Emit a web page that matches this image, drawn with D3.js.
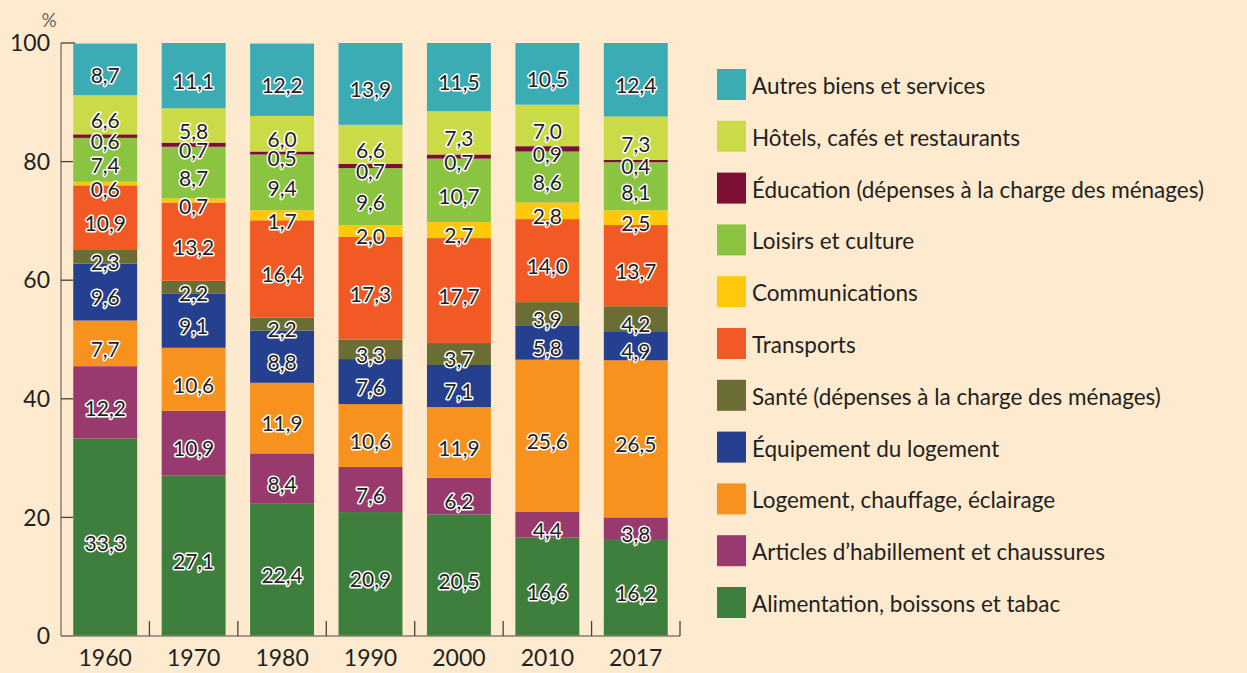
<!DOCTYPE html>
<html><head><meta charset="utf-8">
<script src="https://cdn.jsdelivr.net/npm/d3@7"></script>
<style>
html,body{margin:0;padding:0;background:#FEEACF;}
svg{display:block;}
text{font-family:Lato,"Open Sans",sans-serif;}
</style></head>
<body>
<svg id="chart" width="1247" height="673"></svg>
<script>
const years = ["1960","1970","1980","1990","2000","2010","2017"];
const categories = [
  "Alimentation, boissons et tabac",
  "Articles d’habillement et chaussures",
  "Logement, chauffage, éclairage",
  "Équipement du logement",
  "Santé (dépenses à la charge des ménages)",
  "Transports",
  "Communications",
  "Loisirs et culture",
  "Éducation (dépenses à la charge des ménages)",
  "Hôtels, cafés et restaurants",
  "Autres biens et services"
];
const colors = ["#3F7F3E","#983A6E","#F7921E","#25408F","#6A6E34","#F15A25","#FFC90B","#8AC440","#7D0E35","#CBDB48","#3BABB4"];
const alimentation  = [33.3,27.1,22.4,20.9,20.5,16.6,16.2];
const habillement   = [12.2,10.9,8.4,7.6,6.2,4.4,3.8];
const logement      = [7.7,10.6,11.9,10.6,11.9,25.6,26.5];
const equipement    = [9.6,9.1,8.8,7.6,7.1,5.8,4.9];
const sante         = [2.3,2.2,2.2,3.3,3.7,3.9,4.2];
const transports    = [10.9,13.2,16.4,17.3,17.7,14.0,13.7];
const communications= [0.6,0.7,1.7,2.0,2.7,2.8,2.5];
const loisirs       = [7.4,8.7,9.4,9.6,10.7,8.6,8.1];
const education     = [0.6,0.7,0.5,0.7,0.7,0.9,0.4];
const hotels        = [6.6,5.8,6.0,6.6,7.3,7.0,7.3];
const autres        = [8.7,11.1,12.2,13.9,11.5,10.5,12.4];
const yTicks = [0,20,40,60,80,100];

const series = [alimentation,habillement,logement,equipement,sante,transports,communications,loisirs,education,hotels,autres];
const rows = years.map((y,i)=>{const r={year:y}; categories.forEach((c,k)=>r[c]=series[k][i]); return r;});
const stacked = d3.stack().keys(categories)(rows);

const svg = d3.select("#chart");
const x = d3.scaleBand().domain(years).range([61,680]).paddingInner(0.277).paddingOuter(0.1385);
const y = d3.scaleLinear().domain([0,100]).range([636,43]);
const color = d3.scaleOrdinal().domain(categories).range(colors);
const axisCol = "#8A7E72", txt = "#231F20";

// bars
const g = svg.append("g");
stacked.forEach(s=>{
  g.selectAll(null).data(s).enter().append("rect")
    .attr("x", d=>x(d.data.year)).attr("width", x.bandwidth())
    .attr("y", d=>y(Math.min(d[1],100))).attr("height", d=>y(d[0])-y(Math.min(d[1],100)))
    .attr("fill", color(s.key));
});

// axes
const ya = svg.append("g");
ya.append("line").attr("x1",61).attr("x2",61).attr("y1",y(100)).attr("y2",y(0)).attr("stroke",axisCol).attr("stroke-width",1.5);
ya.selectAll(".t").data(yTicks).enter().append("line")
  .attr("x1",61).attr("x2",d=>d===100?75:73).attr("y1",d=>y(d)).attr("y2",d=>y(d))
  .attr("stroke",d=>d===0?axisCol:"#4a4038").attr("stroke-width",1.3);
ya.selectAll(".l").data(yTicks).enter().append("text")
  .attr("x",50).attr("y",d=>y(d)).attr("dy","0.36em").attr("text-anchor","end")
  .attr("font-size",23).attr("fill",txt).text(d=>d);
svg.append("text").attr("x",49).attr("y",27).attr("text-anchor","middle").attr("font-size",19).attr("fill","#6b6560").text("%");

const xa = svg.append("g");
xa.append("line").attr("x1",61).attr("x2",680).attr("y1",636).attr("y2",636).attr("stroke",axisCol).attr("stroke-width",1.5);
const bounds = years.map(d=>x(d)+x.bandwidth()+x.step()*x.paddingInner()/2);
xa.selectAll(".t").data(bounds).enter().append("line")
  .attr("x1",d=>d).attr("x2",d=>d).attr("y1",621).attr("y2",636).attr("stroke","#4a4038").attr("stroke-width",1.3);
xa.selectAll(".l").data(years).enter().append("text")
  .attr("x",d=>x(d)+x.bandwidth()/2).attr("y",666).attr("text-anchor","middle")
  .attr("font-size",23).attr("fill",txt).text(d=>d);

// value labels
const fmt = v=>v.toFixed(1).replace(".",",");
stacked.forEach((s,k)=>{
  g.selectAll(null).data(s).enter().append("text")
    .attr("x", d=>x(d.data.year)+x.bandwidth()/2)
    .attr("y", d=>(y(d[0])+y(Math.min(d[1],100)))/2 + 6)
    .attr("dy","0.35em").attr("text-anchor","middle")
    .attr("font-size",21).attr("fill",txt)
    .attr("stroke","#ffffff").attr("stroke-width",3).attr("paint-order","stroke").attr("stroke-linejoin","round")
    .text(d=>fmt(series[k][years.indexOf(d.data.year)]));
});

// legend
const legendOrder = categories.slice().reverse();
const lg = svg.append("g");
legendOrder.forEach((c,i)=>{
  const ty = 69 + i*51.8;
  lg.append("rect").attr("x",717).attr("y",ty).attr("width",29).attr("height",31).attr("fill",color(c));
  lg.append("text").attr("x",752).attr("y",ty+25).attr("font-size",22.5).attr("fill",txt).text(c);
});
</script>
</body></html>
